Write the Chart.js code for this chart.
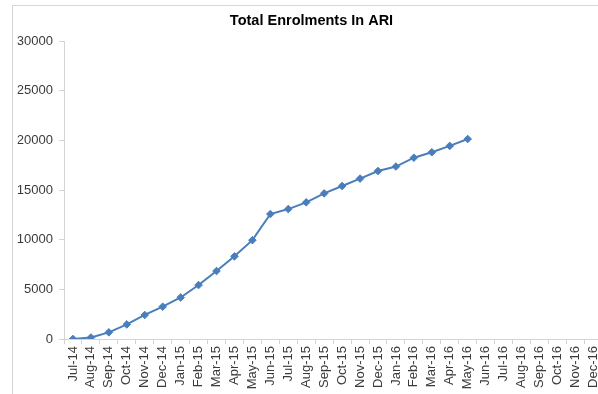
<!DOCTYPE html>
<html>
<head>
<meta charset="utf-8">
<title>Total Enrolments In ARI</title>
<script src="https://cdn.jsdelivr.net/npm/chart.js@4/dist/chart.umd.min.js"></script>
<style>
  html, body { margin: 0; padding: 0; background: #fff; overflow: hidden; width: 598px; height: 394px; }
  #frame {
    position: absolute; left: 12px; top: 5px;
    width: 598px; height: 389px;
    border-left: 1px solid #d6d6d6; border-top: 1px solid #d6d6d6;
    background: #fff;
  }
  canvas { display: block; }
</style>
</head>
<body>
<div id="frame"><canvas id="chart" width="598" height="388"></canvas></div>
<script>
// Monthly cumulative enrolments
const months = [
  'Jul-14', 'Aug-14', 'Sep-14', 'Oct-14', 'Nov-14', 'Dec-14',
  'Jan-15', 'Feb-15', 'Mar-15', 'Apr-15', 'May-15', 'Jun-15',
  'Jul-15', 'Aug-15', 'Sep-15', 'Oct-15', 'Nov-15', 'Dec-15',
  'Jan-16', 'Feb-16', 'Mar-16', 'Apr-16', 'May-16', 'Jun-16',
  'Jul-16', 'Aug-16', 'Sep-16', 'Oct-16', 'Nov-16', 'Dec-16'
];
const enrolments = [
  0, 150, 670, 1470, 2420, 3250,
  4180, 5430, 6840, 8320, 9950, 12580,
  13080, 13760, 14660, 15400, 16150, 16910,
  17360, 18250, 18800, 19440, 20130, null,
  null, null, null, null, null, null
];
const yTicks = [0, 5000, 10000, 15000, 20000, 25000, 30000];

const axisGrey = '#d4d4d4';
const textGrey = '#3a3a3a';
const lineBlue = '#4a7ebb';
const font = 'Liberation Sans, Arial, sans-serif';

new Chart(document.getElementById('chart'), {
  type: 'line',
  data: {
    labels: months,
    datasets: [{
      label: 'Total Enrolments',
      data: enrolments,
      borderColor: lineBlue,
      backgroundColor: lineBlue,
      borderWidth: 2,
      pointStyle: 'rectRot',
      pointRadius: 3.8,
      pointBorderWidth: 1,
      pointBackgroundColor: lineBlue,
      pointBorderColor: lineBlue,
      tension: 0,
      spanGaps: false
    }]
  },
  options: {
    responsive: false,
    animation: false,
    devicePixelRatio: 1,
    layout: { padding: { left: 4.5, right: 5.5, top: 0, bottom: 0 } },
    plugins: {
      legend: { display: false },
      tooltip: { enabled: false },
      title: {
        display: true,
        text: 'Total Enrolments In ARI',
        color: '#000',
        font: { family: font, size: 14.5, weight: 'bold', lineHeight: 1.2 },
        padding: { top: 6.3, bottom: 11.3 }
      }
    },
    scales: {
      x: {
        type: 'category',
        offset: true,
        afterFit: (s) => { s.height = 55; },
        border: { display: true, color: axisGrey, width: 1 },
        grid: {
          offset: true,
          drawOnChartArea: false,
          drawTicks: true,
          tickLength: 5,
          color: axisGrey
        },
        ticks: {
          autoSkip: false,
          minRotation: 90,
          maxRotation: 90,
          padding: 2,
          color: textGrey,
          font: { family: font, size: 13 }
        }
      },
      y: {
        min: 0,
        max: 30000,
        afterFit: (s) => { s.width = 46.5; },
        afterBuildTicks: (s) => { s.ticks = yTicks.map(v => ({ value: v })); },
        border: { display: true, color: axisGrey, width: 1 },
        grid: {
          drawOnChartArea: false,
          drawTicks: true,
          tickLength: 5,
          color: axisGrey
        },
        ticks: {
          padding: 6,
          color: textGrey,
          font: { family: font, size: 13 },
          callback: (v) => String(v)
        }
      }
    }
  }
});
</script>
</body>
</html>
